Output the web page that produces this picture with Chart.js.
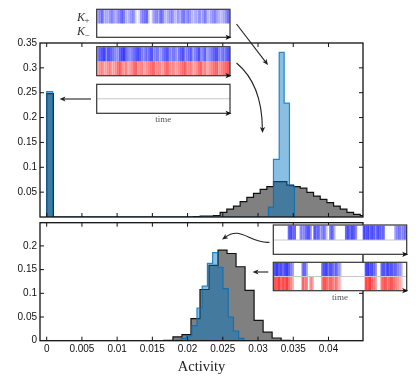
<!DOCTYPE html>
<html><head><meta charset="utf-8">
<script src="https://cdn.jsdelivr.net/npm/chart.js@4.4.0/dist/chart.umd.min.js"></script>
<style>
html,body{margin:0;padding:0;background:#fff;}
#wrap{position:relative;width:416px;height:381px;overflow:hidden;background:#fff;}
canvas{position:absolute;left:0;}
</style></head><body>
<div id="wrap">
<canvas id="c1" width="416" height="222" style="top:0px"></canvas>
<canvas id="c2" width="416" height="181" style="top:200px"></canvas>
</div>
<script>
// ---------- data ----------
const xMin = -0.00095, xMax = 0.0449, xStep = 0.005;
const topYMax = 0.35, botYMax = 0.249, yStep = 0.05;

// top panel: gray histogram (bins of equal width starting at 0)
const topGrayBinWidth = 0.000947;
const topGrayValues = [0.248,
  0,0,0,0,0,0,0,0,0,0, 0,0,0,0,0,0,0,0,0,0, 0,
  0.001,0.002,0.002,0.003,
  0.0094,0.016,0.022,0.031,0.0396,0.0476,0.0557,0.061,0.071,0.071,0.064,
  0.061,0.058,0.0497,0.042,0.0356,0.029,0.022,0.016,0.0094,0.0054,0.003];
// top panel: blue histogram
const topBlueSpikeEdges = [0, 0.00085];
const topBlueSpikeValues = [0.252];
const topBlueEdges = [0.03148, 0.03219, 0.03300, 0.03371, 0.03446, 0.03517];
const topBlueValues = [0.020, 0.116, 0.331, 0.229, 0.062];

// bottom panel: gray histogram
const botGrayBinWidth = 0.00128;
const botGrayFirstBin = 13;
const botGrayValues = [0.001,0.008,0.013,0.0465,0.108,0.159,0.191,0.184,0.156,0.106,0.043,0.018,0.0057,0.001];
// bottom panel: blue histogram
const botBlueStart = 0.01837;
const botBlueBinWidth = 0.00074;
const botBlueValues = [0.001,0.005,0.010,0.032,0.069,0.115,0.163,0.186,0.155,0.110,0.050,0.020,0.005];

// inset raster intensities (0 = none, 9 = strongest)
const inset1Blue = "56834356435687324562015678103564873245632536746532436357324564323468";
const inset2Blue = "6789587654478965456787546578456346785465367845673568457345678546578";
const inset2Red  = "4563456345785463457845634567845634785463456784563457846345678456789";
const inset4Blue = "0000000786700545785086735620673000007868750008786875876700000456456";
const inset5Blue = "8978689754000067400000007896875743000000000000897865007869786754300";
const inset5Red  = "8796879653000075605400006875764632000000000000879654006785786543200";

// ---------- helpers ----------
function uniformEdges(start, w, n){ return Array.from({length:n+1},(_,i)=>start+i*w); }
function stepPoints(edges, values){
  const pts=[{x:edges[0],y:0}];
  for(let i=0;i<values.length;i++) pts.push({x:edges[i],y:values[i]});
  pts.push({x:edges[values.length],y:0});
  return pts;
}
const fmt = v => String(parseFloat(Number(v).toFixed(4)));
const tickFont = {family:'Liberation Sans, Arial, sans-serif', size:10};
const BLUE_FILL='rgba(0,116,197,0.46)', BLUE_EDGE='rgba(0,110,185,0.8)';
const GRAY_FILL='rgb(128,128,128)', GRAY_EDGE='#111';

function ds(points, fill, edge, lw){
  return {data:points, stepped:'before', fill:'origin', backgroundColor:fill, borderColor:edge,
    borderWidth:lw, pointRadius:0, tension:0};
}

const framePlugin = {
  id:'frame',
  afterDatasetsDraw(chart){
    const {ctx, chartArea:a, scales:{x,y}} = chart;
    ctx.save();
    ctx.strokeStyle='#111'; ctx.lineWidth=1.3;
    ctx.strokeRect(a.left,a.top,a.right-a.left,a.bottom-a.top);
    ctx.lineWidth=1;
    ctx.beginPath();
    x.ticks.forEach(t=>{
      const p=x.getPixelForValue(t.value);
      if(p<a.left+1||p>a.right-1) return;
      ctx.moveTo(p,a.top); ctx.lineTo(p,a.top+4);
      ctx.moveTo(p,a.bottom); ctx.lineTo(p,a.bottom-4);
    });
    y.ticks.forEach(t=>{
      const p=y.getPixelForValue(t.value);
      if(p<a.top+1||p>a.bottom-1) return;
      ctx.moveTo(a.left,p); ctx.lineTo(a.left+4,p);
      ctx.moveTo(a.right,p); ctx.lineTo(a.right-4,p);
    });
    ctx.stroke();
    ctx.restore();
  }
};

function arrowHead(ctx, x, y, ang, len, wid){
  ctx.save(); ctx.translate(x,y); ctx.rotate(ang);
  ctx.beginPath(); ctx.moveTo(0,0); ctx.lineTo(-len,-wid); ctx.lineTo(-len*0.75,0); ctx.lineTo(-len,wid); ctx.closePath();
  ctx.fill(); ctx.restore();
}
function stripes(ctx, str, x, y, w, h, rgb, k){
  const n=str.length, cw=w/n;
  for(let i=0;i<n;i++){
    const d=+str[i]; if(!d) continue;
    ctx.fillStyle=`rgba(${rgb},${(0.08+d/9*k).toFixed(3)})`;
    ctx.fillRect(x+i*cw, y, cw+0.4, h);
  }
}
function box(ctx, x, y, w, h, draw){
  ctx.save();
  ctx.fillStyle='#fff'; ctx.fillRect(x,y,w,h);
  if(draw) draw();
  ctx.strokeStyle='#333'; ctx.lineWidth=1.2;
  ctx.strokeRect(x,y,w,h);
  ctx.fillStyle='#111';
  arrowHead(ctx, x+w+1.5, y+h, 0, 6, 2.6);
  ctx.restore();
}
function midLine(ctx,x,y,w){ ctx.save(); ctx.strokeStyle='#c8c8c8'; ctx.lineWidth=1; ctx.beginPath(); ctx.moveTo(x,y); ctx.lineTo(x+w,y); ctx.stroke(); ctx.restore(); }

const topInsets = {
  id:'topInsets',
  afterDraw(chart){
    const ctx=chart.ctx;
    ctx.save();
    // inset 1
    box(ctx, 96.7, 9.3, 133.3, 28, ()=>{ stripes(ctx, inset1Blue, 97.3, 9.9, 132.1, 13.6, '30,30,255', 0.62); });
    // inset 2
    box(ctx, 96.7, 46.7, 133.3, 29, ()=>{
      stripes(ctx, inset2Blue, 97.3, 47.3, 132.1, 14, '20,20,255', 0.72);
      stripes(ctx, inset2Red, 97.3, 61.3, 132.1, 14, '255,20,20', 0.62);
    });
    // inset 3
    box(ctx, 96.7, 84.3, 133.3, 29, ()=>{ midLine(ctx, 97, 98.8, 133); });
    ctx.fillStyle='#555'; ctx.font='9px "Liberation Serif", serif'; ctx.textAlign='center'; ctx.textBaseline='middle';
    ctx.fillText('time', 163.3, 119.5);
    // K labels
    ctx.fillStyle='#333'; ctx.textAlign='left'; ctx.textBaseline='alphabetic';
    ctx.font='italic 12px "Liberation Serif", serif';
    ctx.fillText('K', 77, 20.5); ctx.fillText('K', 77, 35);
    ctx.font='9px "Liberation Serif", serif';
    ctx.fillText('+', 84.5, 23); ctx.fillText('\u2212', 84.5, 37.5);
    // arrows
    ctx.strokeStyle='#222'; ctx.fillStyle='#222'; ctx.lineWidth=1.1;
    ctx.beginPath(); ctx.moveTo(91,99); ctx.lineTo(63,99); ctx.stroke();
    arrowHead(ctx, 59.5, 99, Math.PI, 6, 2.6);
    ctx.beginPath(); ctx.moveTo(236.5,24); ctx.lineTo(265.5,61.8); ctx.stroke();
    arrowHead(ctx, 268, 65, Math.atan2(41,31.5), 6, 2.6);
    ctx.beginPath(); ctx.moveTo(236.5,63); ctx.quadraticCurveTo(262,84,262.4,129); ctx.stroke();
    arrowHead(ctx, 262.5, 133, Math.PI/2, 6, 2.6);
    ctx.restore();
  }
};

const botInsets = {
  id:'botInsets',
  afterDraw(chart){
    const ctx=chart.ctx;
    ctx.save();
    box(ctx, 273.3, 25, 133.4, 29.3, ()=>{
      midLine(ctx, 273.6, 40, 133);
      stripes(ctx, inset4Blue, 273.9, 25.6, 132.2, 14, '20,20,255', 0.72);
    });
    box(ctx, 273.3, 62.3, 133.4, 28.4, ()=>{
      stripes(ctx, inset5Blue, 273.9, 62.9, 132.2, 13.6, '20,20,255', 0.72);
      stripes(ctx, inset5Red, 273.9, 76.5, 132.2, 13.6, '255,20,20', 0.72);
      midLine(ctx, 273.6, 76.5, 133);
    });
    ctx.fillStyle='#555'; ctx.font='9px "Liberation Serif", serif'; ctx.textAlign='center'; ctx.textBaseline='middle';
    ctx.fillText('time', 340, 97.5);
    ctx.strokeStyle='#222'; ctx.fillStyle='#222'; ctx.lineWidth=1.1;
    ctx.beginPath(); ctx.moveTo(269.5,42.3); ctx.bezierCurveTo(250,44,241,25,225,37.5); ctx.stroke();
    arrowHead(ctx, 222, 39.5, Math.atan2(3,-4.5), 6, 2.6);
    ctx.beginPath(); ctx.moveTo(268.3,72); ctx.lineTo(256,72); ctx.stroke();
    arrowHead(ctx, 252.5, 72, Math.PI, 6, 2.6);
    ctx.restore();
  }
};

function yScale(max, hideZero){
  return {
    min:0, max:max,
    ticks:{stepSize:yStep, includeBounds:false, padding:3, font:tickFont, color:'#111',
      callback:v=> (hideZero && v===0) ? '' : fmt(v)},
    grid:{display:false, drawTicks:false}, border:{display:false},
    afterFit:s=>{ s.width=40; s.paddingTop=0; s.paddingBottom=0; }
  };
}

// ---------- top chart ----------
const topGrayPts = stepPoints(uniformEdges(0, topGrayBinWidth, topGrayValues.length), topGrayValues);
const topBluePts = stepPoints(topBlueSpikeEdges, topBlueSpikeValues).concat(stepPoints(topBlueEdges, topBlueValues));

new Chart(document.getElementById('c1'), {
  type:'line',
  data:{datasets:[ ds(topBluePts, BLUE_FILL, BLUE_EDGE, 1.2), ds(topGrayPts, GRAY_FILL, GRAY_EDGE, 1.2) ]},
  options:{
    responsive:false, animation:false, events:[],
    plugins:{legend:{display:false}, tooltip:{enabled:false}},
    layout:{padding:{left:0, top:43, right:53, bottom:0}},
    scales:{
      x:{type:'linear', min:xMin, max:xMax,
        ticks:{display:false, stepSize:xStep, includeBounds:false, autoSkip:false},
        grid:{display:false, drawTicks:false}, border:{display:false},
        afterFit:s=>{ s.height=5; s.paddingLeft=0; s.paddingRight=0; }},
      y: yScale(topYMax, true)
    }
  },
  plugins:[framePlugin, topInsets]
});

// ---------- bottom chart ----------
const botGrayEdges = uniformEdges(botGrayFirstBin*botGrayBinWidth, botGrayBinWidth, botGrayValues.length);
const botGrayPts = stepPoints(botGrayEdges, botGrayValues);
const botBluePts = stepPoints(uniformEdges(botBlueStart, botBlueBinWidth, botBlueValues.length), botBlueValues);

new Chart(document.getElementById('c2'), {
  type:'line',
  data:{datasets:[ ds(botBluePts, BLUE_FILL, BLUE_EDGE, 1.2), ds(botGrayPts, GRAY_FILL, GRAY_EDGE, 1.2) ]},
  options:{
    responsive:false, animation:false, events:[],
    plugins:{legend:{display:false}, tooltip:{enabled:false}},
    layout:{padding:{left:0, top:22.7, right:53, bottom:0}},
    scales:{
      x:{type:'linear', min:xMin, max:xMax,
        ticks:{stepSize:xStep, includeBounds:false, autoSkip:false, maxRotation:0, padding:3,
          font:tickFont, color:'#111', callback:v=>fmt(v)},
        title:{display:true, text:'Activity', color:'#222',
          font:{family:'Liberation Serif, Times New Roman, serif', size:14.5}, padding:{top:0,bottom:5}},
        grid:{display:false, drawTicks:false}, border:{display:false},
        afterFit:s=>{ s.height=40.3; s.paddingLeft=0; s.paddingRight=0; }},
      y: yScale(botYMax, false)
    }
  },
  plugins:[framePlugin, botInsets]
});
</script>
</body></html>
